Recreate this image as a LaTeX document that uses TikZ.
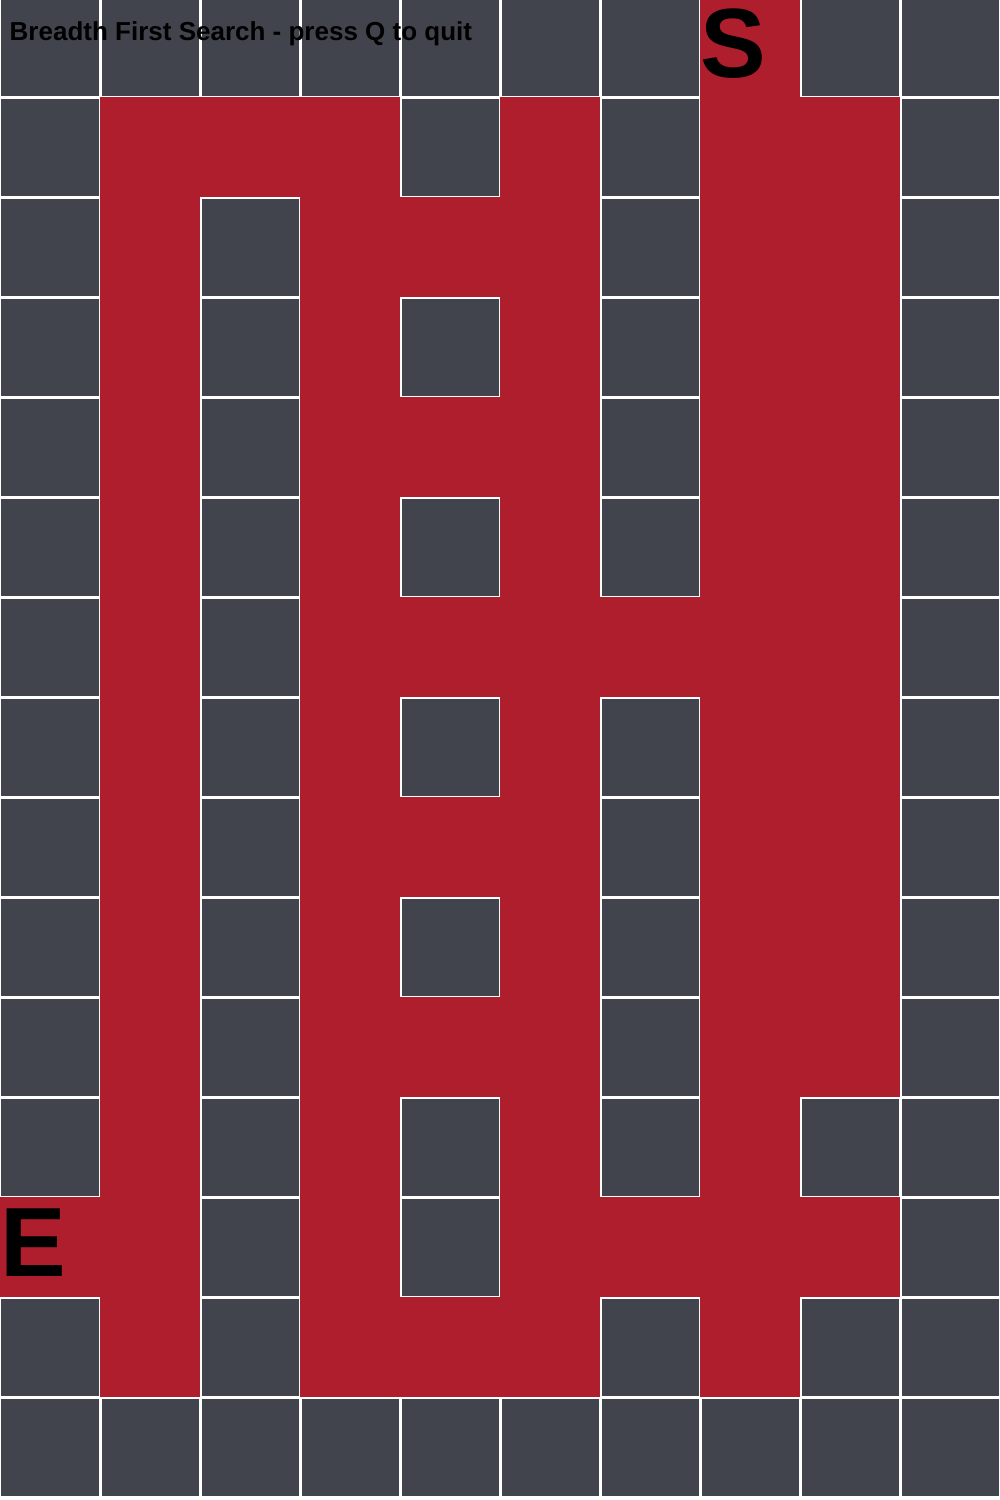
\documentclass[tikz,border=0pt]{standalone}
\usepackage{fontspec}
\setmainfont{Liberation Sans}
\usetikzlibrary{positioning}
\definecolor{wallgray}{RGB}{65,68,77}
\definecolor{routered}{RGB}{175,30,45}

\begin{document}
\begin{tikzpicture}[
      wall/.style={fill=wallgray},
      route/.style={fill=routered},
      caption/.style={font=\bfseries\fontsize{7.4}{8}\selectfont,inner sep=0pt,anchor=base west},
      marker/.style={font=\bfseries\fontsize{28}{28}\selectfont,inner sep=0pt,anchor=base west}
    ]
      \useasboundingbox (0,0) rectangle (10,-15);
      \fill[white] (0,0) rectangle (10,-15);

      \begin{scope}[yshift=0.3mm]
      % maze walls
      \foreach \r in {0,...,14}
        \foreach \c in {0,...,9}
          \fill[wall] ({\c+0.015},{-\r-0.015}) rectangle ({\c+0.985},{-\r-0.985});

      % cells visited by the search
      \foreach \r/\cols in {0/{7},1/{1,2,3,5,7,8},2/{1,3,4,5,7,8},3/{1,3,5,7,8},
                            4/{1,3,4,5,7,8},5/{1,3,5,7,8},6/{1,3,4,5,6,7,8},
                            7/{1,3,5,7,8},8/{1,3,4,5,7,8},9/{1,3,5,7,8},
                            10/{1,3,4,5,7,8},11/{1,3,5,7},12/{0,1,3,5,6,7,8},
                            13/{1,3,4,5,7}}
        \foreach \c in \cols
          \fill[route] (\c,-\r) rectangle ++(1,-1);
      \end{scope}

      \node[caption] (title) at (0.09,-0.40) {Breadth First Search - press Q to quit};
      \node[marker] (start) at (7.0,-0.77) {S};
      \node[marker] (goal) at (0.0,-12.76) {E};
    \end{tikzpicture}
\end{document}
